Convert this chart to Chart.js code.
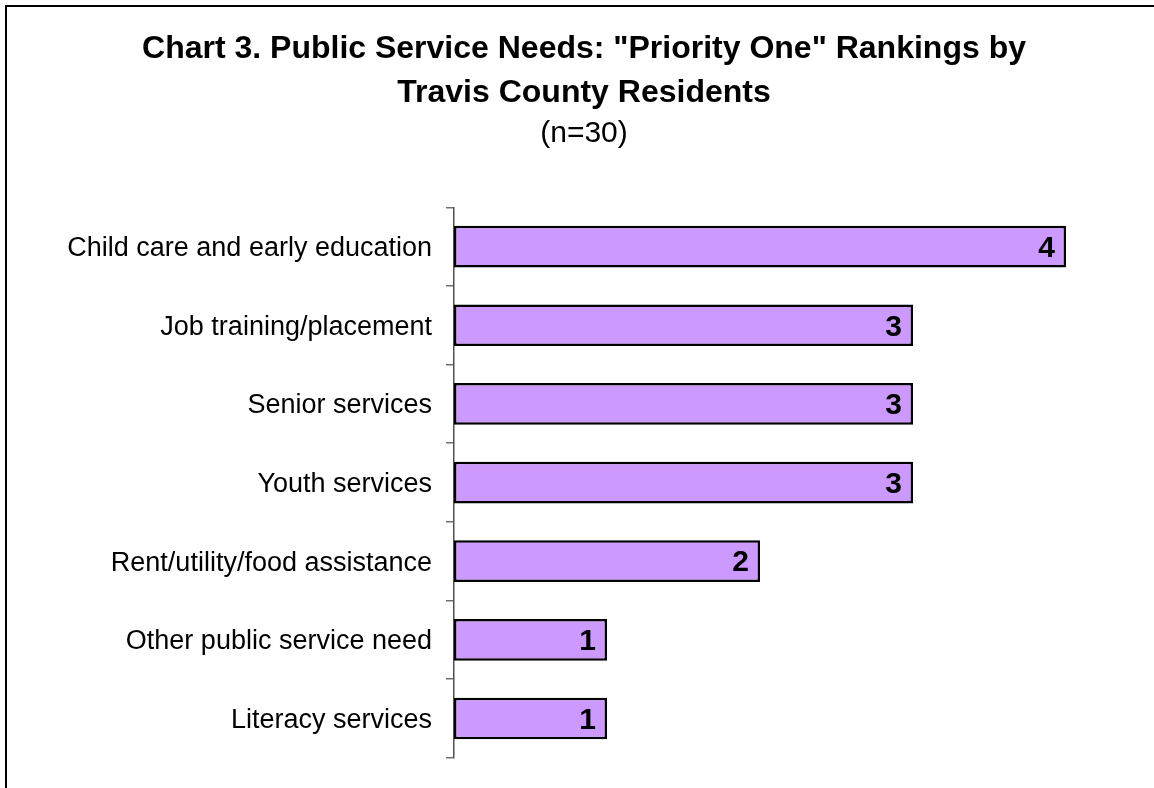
<!DOCTYPE html>
<html>
<head>
<meta charset="utf-8">
<title>Public Service Needs</title>
<script src="https://cdn.jsdelivr.net/npm/chart.js@4"></script>
<style>
    html, body { margin: 0; padding: 0; background: #fff; overflow: hidden; }
    #frame {
        position: absolute;
        left: 5px;
        top: 5px;
        width: 1200px;
        height: 840px;
        border: 2px solid #000;
    }
    #frame canvas { display: block; }
</style>
</head>
<body>
<div id="frame">
    <canvas id="needsChart" width="1147" height="781" style="width:1147px;height:781px"></canvas>
</div>
<script>
var categories = [
    "Child care and early education",
    "Job training/placement",
    "Senior services",
    "Youth services",
    "Rent/utility/food assistance",
    "Other public service need",
    "Literacy services"
];
var rankings = [4, 3, 3, 3, 2, 1, 1];
var titleLines = ["Chart 3. Public Service Needs: \"Priority One\" Rankings by", "Travis County Residents"];
var subtitleText = "(n=30)";

// writes each bar's value just inside its right end
var barValueLabels = {
    id: "barValueLabels",
    afterDatasetsDraw: function (chart) {
        var ctx = chart.ctx;
        var meta = chart.getDatasetMeta(0);
        ctx.save();
        ctx.font = "bold 30px 'Liberation Sans', Arial, sans-serif";
        ctx.fillStyle = "#000";
        ctx.textAlign = "right";
        ctx.textBaseline = "middle";
        meta.data.forEach(function (bar, i) {
            ctx.fillText(String(chart.data.datasets[0].data[i]), bar.x - 11, bar.y + 2);
        });
        ctx.restore();
    }
};

var needsChart = new Chart(document.getElementById("needsChart"), {
    type: "bar",
    data: {
        labels: categories,
        datasets: [{
            data: rankings,
            backgroundColor: "#CC99FF",
            borderColor: "#000",
            borderWidth: 2.5,
            borderSkipped: false,
            barPercentage: 0.53,
            categoryPercentage: 1
        }]
    },
    options: {
        indexAxis: "y",
        responsive: false,
        animation: false,
        layout: {
            padding: { left: 18.5, right: 11.5, top: 0, bottom: 27.3 }
        },
        plugins: {
            legend: { display: false },
            tooltip: { enabled: false },
            title: {
                display: true,
                text: titleLines,
                color: "#000",
                font: { family: "'Liberation Sans', Arial, sans-serif", size: 32, weight: "bold", lineHeight: 1.375 },
                padding: { top: 20, bottom: 0 }
            },
            subtitle: {
                display: true,
                text: subtitleText,
                color: "#000",
                font: { family: "'Liberation Sans', Arial, sans-serif", size: 30, weight: "normal", lineHeight: 1 },
                padding: { top: 4, bottom: 58.3 }
            }
        },
        scales: {
            x: {
                display: false,
                min: 0,
                max: 4.5
            },
            y: {
                afterFit: function (scale) {
                    scale.width = 428.5;
                },
                grid: {
                    offset: true,
                    drawOnChartArea: false,
                    tickLength: 8,
                    color: "#707070",
                    lineWidth: 1.5
                },
                border: { display: true, color: "#505050", width: 1.5 },
                ticks: {
                    color: "#000",
                    padding: 14,
                    labelOffset: 2,
                    font: { family: "'Liberation Sans', Arial, sans-serif", size: 27 }
                }
            }
        }
    },
    plugins: [barValueLabels]
});
</script>
</body>
</html>
